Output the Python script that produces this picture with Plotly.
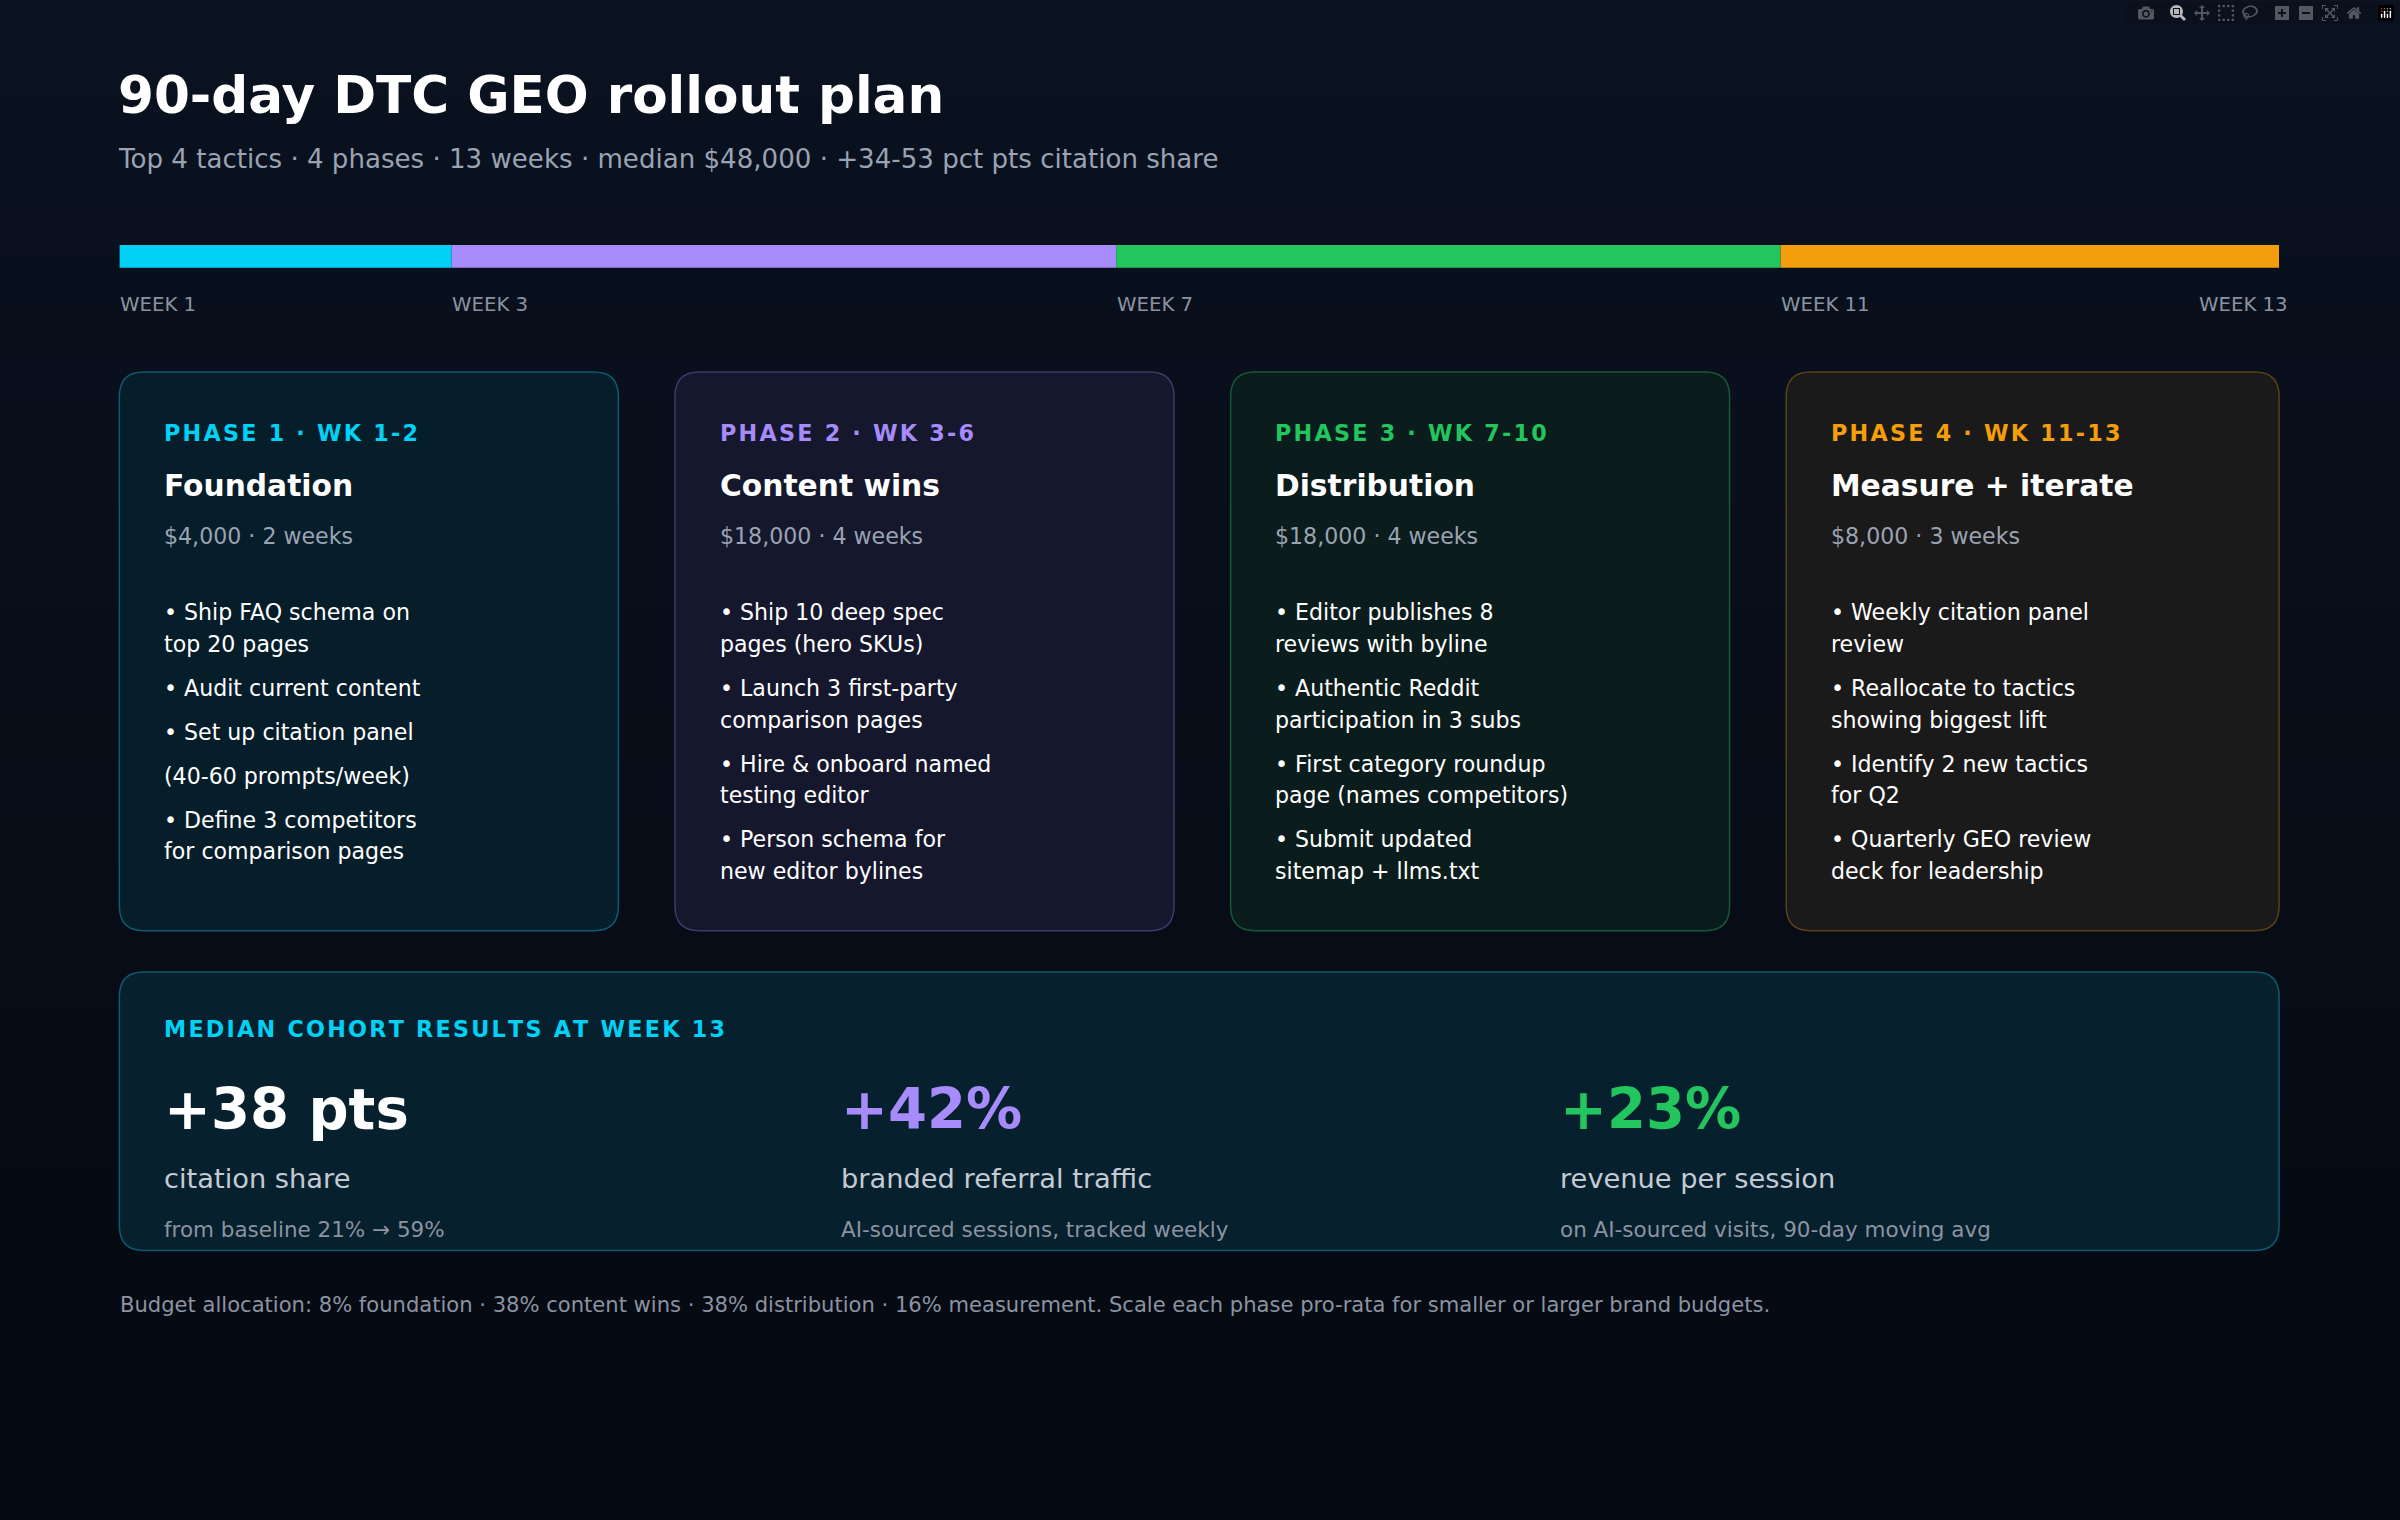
import plotly.graph_objects as go

S = 2400/1568
phase_names = ["PHASE 1 · WK 1-2", "PHASE 2 · WK 3-6", "PHASE 3 · WK 7-10", "PHASE 4 · WK 11-13"]
phase_titles = ["Foundation", "Content wins", "Distribution", "Measure + iterate"]
phase_costs = ["$4,000 · 2 weeks", "$18,000 · 4 weeks", "$18,000 · 4 weeks", "$8,000 · 3 weeks"]
phase_start = [1, 3, 7, 11]
phase_end = [3, 7, 11, 14]
week_ticks = [1, 3, 7, 11, 13]
phase_colors = ["#00d1f5", "#a78bfa", "#22c55e", "#f59e0b"]
card_fill = ["#061d2a", "#15172d", "#0a1c1c", "#1a1a1a"]
card_line = ["#0e5a6e", "#3b3a6b", "#145a36", "#5a4214"]
bullets = [
    ["• Ship FAQ schema on", "top 20 pages", None, "• Audit current content", None, "• Set up citation panel", None, "(40-60 prompts/week)", None, "• Define 3 competitors", "for comparison pages"],
    ["• Ship 10 deep spec", "pages (hero SKUs)", None, "• Launch 3 first-party", "comparison pages", None, "• Hire & onboard named", "testing editor", None, "• Person schema for", "new editor bylines"],
    ["• Editor publishes 8", "reviews with byline", None, "• Authentic Reddit", "participation in 3 subs", None, "• First category roundup", "page (names competitors)", None, "• Submit updated", "sitemap + llms.txt"],
    ["• Weekly citation panel", "review", None, "• Reallocate to tactics", "showing biggest lift", None, "• Identify 2 new tactics", "for Q2", None, "• Quarterly GEO review", "deck for leadership"],
]
metric_values = ["+38 pts", "+42%", "+23%"]
metric_labels = ["citation share", "branded referral traffic", "revenue per session"]
metric_notes = ["from baseline 21% → 59%", "AI-sourced sessions, tracked weekly", "on AI-sourced visits, 90-day moving avg"]
metric_colors = ["#ffffff", "#a78bfa", "#22c55e"]

FONT = "DejaVu Sans"
def sp(t):
    return "\u200a".join(t)

fig = go.Figure()
fig.add_trace(go.Bar(x=[e - s for s, e in zip(phase_start, phase_end)], base=phase_start, y=[0]*4,
                     orientation="h", width=1, marker=dict(color=phase_colors, line_width=0),
                     xaxis="x2", yaxis="y2", hoverinfo="skip", showlegend=False))
fig.add_trace(go.Scatter(x=[0], y=[0], mode="markers", marker_opacity=0, showlegend=False, hoverinfo="skip"))

shapes, ann = [], []
n = 30
for i in range(n):
    t = i/(n-1)
    c = tuple(int(a + (b - a)*t) for a, b in zip((11, 18, 32), (5, 9, 17)))
    shapes.append(dict(type="rect", xref="paper", yref="paper", x0=0, x1=1, y0=1-(i+1)/n, y1=1-i/n,
                       fillcolor="rgb(%d,%d,%d)" % c, line_width=0, layer="below"))

def rrect(x0, y0, x1, y1, r, fill, line):
    p = (f"M{x0+r},{y0} L{x1-r},{y0} Q{x1},{y0} {x1},{y0+r} L{x1},{y1-r} Q{x1},{y1} {x1-r},{y1} "
         f"L{x0+r},{y1} Q{x0},{y1} {x0},{y1-r} L{x0},{y0+r} Q{x0},{y0} {x0+r},{y0} Z")
    shapes.append(dict(type="path", path=p, xref="x", yref="y", fillcolor=fill, line=dict(color=line, width=1.5), layer="below"))

def txt(x, y, s, size, color, bold=False, xanchor="left"):
    ann.append(dict(x=x, y=y, xref="x", yref="y", text=f"<b>{s}</b>" if bold else s, showarrow=False,
                    xanchor=xanchor, yanchor="middle", font=dict(family=FONT, size=size*S, color=color)))

txt(76, 62, "90-day DTC GEO rollout plan", 22.5*1.5, "#ffffff", True)
txt(76, 104, "Top 4 tactics · 4 phases · 13 weeks · median $48,000 · +34-53 pct pts citation share", 15.5*1.1, "#9aa3b2")

x0w, x1w = 78, 1489
def wx(w):
    return x0w + (w - 1)*(x1w - x0w)/13
for w in week_ticks:
    if w == 13:
        txt(1496, 199, f"WEEK {w}", 11.5*1.12, "#8b93a1", xanchor="right")
    else:
        txt(wx(w)-1, 199, f"WEEK {w}", 11.5*1.12, "#8b93a1")

cx = [78, 441, 804, 1167]
cw = [326, 326, 326, 322]
for i in range(4):
    rrect(cx[i], 243, cx[i]+cw[i], 608, 16, card_fill[i], card_line[i])
    tx = cx[i] + 28
    txt(tx, 283, sp(phase_names[i]), 13.5*1.08, phase_colors[i], True)
    txt(tx, 317, phase_titles[i], 18.5*1.05, "#ffffff", True)
    txt(tx, 350, phase_costs[i], 13.5*1.07, "#9aa3b2")
    y = 400
    for b in bullets[i]:
        if b is None:
            y += 8
            continue
        txt(tx, y, b, 13.5*1.07, "#ffffff")
        y += 20.7

rrect(78, 635, 1489, 817, 16, "#06202d", "#0e5a6e")
txt(106, 672, sp("MEDIAN COHORT RESULTS AT WEEK 13"), 13.5*1.08, "#00d1f5", True)
mx = [106, 548, 1018]
for i in range(3):
    txt(mx[i], 725, metric_values[i], 33*1.11, metric_colors[i], True)
    txt(mx[i], 770, metric_labels[i], 16.5*1.08, "#c4cad4")
    txt(mx[i], 803, metric_notes[i], 13*1.08, "#8b93a1")

txt(77, 852, "Budget allocation: 8% foundation · 38% content wins · 38% distribution · 16% measurement. Scale each phase pro-rata for smaller or larger brand budgets.", 13*1.06, "#8b93a1")

fig.update_layout(
    width=2400, height=1520, margin=dict(l=0, r=0, t=0, b=0),
    paper_bgcolor="#090e18", plot_bgcolor="rgba(0,0,0,0)",
    xaxis=dict(range=[0, 1568], visible=False, domain=[0, 1]),
    yaxis=dict(range=[993, 0], visible=False, domain=[0, 1]),
    xaxis2=dict(range=[1, 14], visible=False, domain=[78/1568, 1489/1568], anchor="y2"),
    yaxis2=dict(range=[-0.5, 0.5], visible=False, domain=[1-175/993, 1-160/993], anchor="x2"),
    shapes=shapes, annotations=ann, showlegend=False,
)
fig.write_html("out.html", post_script="document.body.style.margin='0';document.body.style.background='#050a12';")
